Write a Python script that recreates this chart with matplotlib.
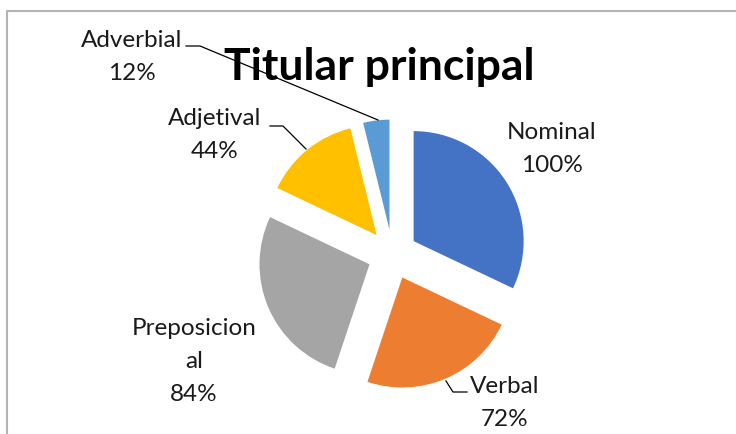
import matplotlib
matplotlib.use("Agg")
import matplotlib.pyplot as plt

# Dados
categorias = ["Nominal", "Verbal", "Preposicional", "Adjetival", "Adverbial"]
valores = [100, 72, 84, 44, 12]
cores = ["#4472C4", "#ED7D31", "#A5A5A5", "#FFC000", "#5B9BD5"]
titulo = "Titular principal"

# Posições dos rótulos (centro x, linha de base da 1.ª linha) em píxeis
pos_rotulos = [(552, 139), (505, 393), (194, 335), (215, 125), (132, 47)]
linhas_guia = {
    "Verbal": [(467, 393), (453, 393), (446, 382)],
    "Adjetival": [(270, 127), (283, 127), (306, 150)],
    "Adverbial": [(186, 47), (200, 47), (378, 121)],
}

plt.rcParams["font.family"] = ["Lato", "DejaVu Sans"]

fig = plt.figure(figsize=(7.36, 4.35), dpi=100)
ax = fig.add_axes([0, 0, 1, 1])

# eixo y invertido: coordenadas iguais às da imagem
# (explode em unidades de dados, não em fração do raio)
ax.pie(valores, colors=cores, radius=110, center=(392.5, 255.5),
       explode=[25] * len(valores), startangle=-90, counterclock=True,
       wedgeprops={"linewidth": 0}, frame=True)
ax.set_xlim(0, 736)
ax.set_ylim(435, 0)
ax.axis("off")

# moldura da área do gráfico
ax.plot([7, 7, 736], [435, 12, 12], color="#B4B4B4", lw=1.5, solid_capstyle="butt")

ax.text(379, 80, titulo, ha="center", va="baseline", fontsize=32,
        fontweight="bold", color="black")

for nome, v, (x, y) in zip(categorias, valores, pos_rotulos):
    linhas = [nome] if len(nome) <= 11 else [nome[:11], nome[11:]]
    linhas.append(f"{v}%")
    for i, t in enumerate(linhas):
        ax.text(x, y + 33 * i, t, ha="center", va="baseline", fontsize=17.5,
                color="#1a1a1a")
    if nome in linhas_guia:
        xs = [p[0] for p in linhas_guia[nome]]
        ys = [p[1] for p in linhas_guia[nome]]
        ax.plot(xs, ys, color="black", lw=0.9)

fig.savefig("out.png", dpi=100)
